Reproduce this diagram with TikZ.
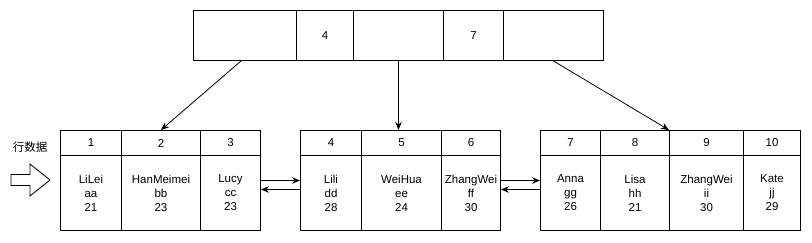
\documentclass[tikz,border=0pt]{standalone}
\usepackage{fontspec}
\setmainfont{Liberation Sans}
\newfontfamily\cjk{Noto Sans CJK SC}
\usetikzlibrary{arrows.meta}
\begin{document}
\begin{tikzpicture}[x=1pt,y=-1pt,
  cell/.style={draw=black,line width=1pt,inner sep=0pt,anchor=north west,
    font=\fontsize{11.5}{14}\selectfont,align=center},
  arr/.style={line width=0.8pt,-{Stealth[length=8pt,width=6.5pt]}}]
\useasboundingbox (0,0) rectangle (812,242);
% top node
\node[cell,minimum width=103pt,minimum height=50pt] (t1) at (193,10) {};
\node[cell,minimum width=57pt,minimum height=50pt] (t2) at (296,10) {4};
\node[cell,minimum width=90pt,minimum height=50pt] (t3) at (353,10) {};
\node[cell,minimum width=60pt,minimum height=50pt] (t4) at (443,10) {7};
\node[cell,minimum width=100pt,minimum height=50pt] (t5) at (503,10) {};
% leaf 1
\node[cell,minimum width=61pt,minimum height=25pt] (h1) at (60,130) {1};
\node[cell,minimum width=79pt,minimum height=25pt] (h2) at (121,130) {2};
\node[cell,minimum width=60pt,minimum height=25pt] (h3) at (200,130) {3};
\node[cell,minimum width=61pt,minimum height=75pt] (b1) at (60,155) {LiLei\\aa\\21};
\node[cell,minimum width=79pt,minimum height=75pt] (b2) at (121,155) {HanMeimei\\bb\\23};
\node[cell,minimum width=60pt,minimum height=75pt] (b3) at (200,155) {Lucy\\cc\\23};
% leaf 2
\node[cell,minimum width=61pt,minimum height=25pt] (h4) at (300,130) {4};
\node[cell,minimum width=80pt,minimum height=25pt] (h5) at (361,130) {5};
\node[cell,minimum width=59pt,minimum height=25pt] (h6) at (441,130) {6};
\node[cell,minimum width=61pt,minimum height=75pt] (b4) at (300,155) {Lili\\dd\\28};
\node[cell,minimum width=80pt,minimum height=75pt] (b5) at (361,155) {WeiHua\\ee\\24};
\node[cell,minimum width=59pt,minimum height=75pt] (b6) at (441,155) {ZhangWei\\ff\\30};
% leaf 3
\node[cell,minimum width=60pt,minimum height=25pt] (h7) at (540,130) {7};
\node[cell,minimum width=69pt,minimum height=25pt] (h8) at (600,130) {8};
\node[cell,minimum width=74pt,minimum height=25pt] (h9) at (669,130) {9};
\node[cell,minimum width=57pt,minimum height=25pt] (h10) at (743,130) {10};
\node[cell,minimum width=60pt,minimum height=75pt] (b7) at (540,155) {Anna\\gg\\26};
\node[cell,minimum width=69pt,minimum height=75pt] (b8) at (600,155) {Lisa\\hh\\21};
\node[cell,minimum width=74pt,minimum height=75pt] (b9) at (669,155) {ZhangWei\\ii\\30};
\node[cell,minimum width=57pt,minimum height=75pt] (b10) at (743,155) {Kate\\jj\\29};
% pointers from top
\draw[arr] ([xshift=-4pt]t1.south) -- (h2.north);
\draw[arr] (t3.south) -- (t3.south |- h5.north);
\draw[arr] (t5.south) -- (h9.north west);
% sibling links
\draw[arr] ([yshift=12.5pt]b3.east) -- ([yshift=12.5pt]b4.west);
\draw[arr] ([yshift=3.5pt]b4.west) -- ([yshift=3.5pt]b3.east);
\draw[arr] ([yshift=12.5pt]b6.east) -- ([yshift=12.5pt]b7.west);
\draw[arr] ([yshift=3.5pt]b7.west) -- ([yshift=3.5pt]b6.east);
% row data label and arrow
\node[font=\cjk\fontsize{11.5}{14}\selectfont] (lbl) at (30,147) {行数据};
\draw[line width=0.8pt,fill=white] (11,174.5) -- (30,174.5) -- (30,164) -- (50,180) -- (30,196) -- (30,185.5) -- (11,185.5) -- cycle;
\end{tikzpicture}
\end{document}
